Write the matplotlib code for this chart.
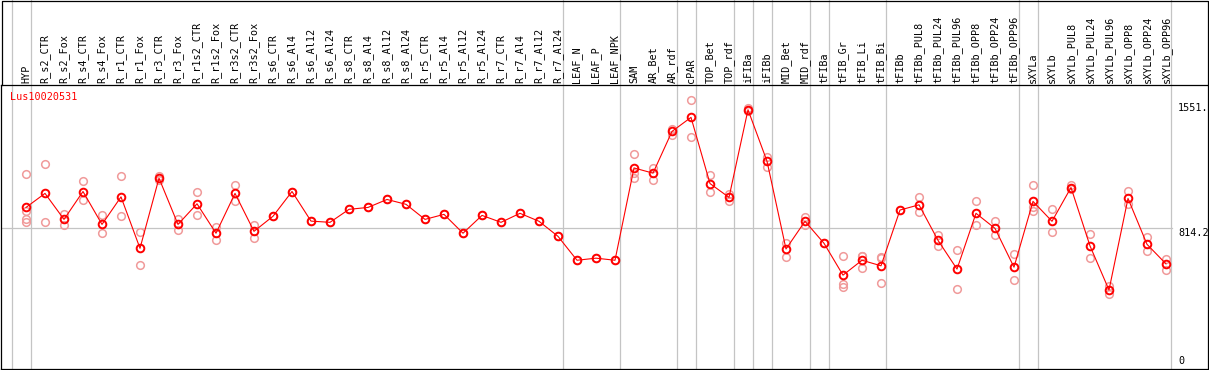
import matplotlib
matplotlib.use("Agg")
import matplotlib.pyplot as plt
import matplotlib.transforms as mtransforms
from matplotlib.lines import Line2D

gene = "Lus10020531"

categories = [
    "HYP", "R_s2_CTR", "R_s2_Fox", "R_s4_CTR", "R_s4_Fox", "R_r1_CTR", "R_r1_Fox",
    "R_r3_CTR", "R_r3_Fox", "R_r1s2_CTR", "R_r1s2_Fox", "R_r3s2_CTR", "R_r3s2_Fox",
    "R_s6_CTR", "R_s6_Al4", "R_s6_Al12", "R_s6_Al24", "R_s8_CTR", "R_s8_Al4",
    "R_s8_Al12", "R_s8_Al24", "R_r5_CTR", "R_r5_Al4", "R_r5_Al12", "R_r5_Al24",
    "R_r7_CTR", "R_r7_Al4", "R_r7_Al12", "R_r7_Al24", "LEAF_N", "LEAF_P", "LEAF_NPK",
    "SAM", "AR_Bet", "AR_rdf", "cPAR", "TOP_Bet", "TOP_rdf", "iFIBa", "iFIBb",
    "MID_Bet", "MID_rdf", "tFIBa", "tFIB_Gr", "tFIB_Li", "tFIB_Bi", "tFIBb",
    "tFIBb_PUL8", "tFIBb_PUL24", "tFIBb_PUL96", "tFIBb_OPP8", "tFIBb_OPP24",
    "tFIBb_OPP96", "sXYLa", "sXYLb", "sXYLb_PUL8", "sXYLb_PUL24", "sXYLb_PUL96",
    "sXYLb_OPP8", "sXYLb_OPP24", "sXYLb_OPP96",
]

means = [
    933, 1014, 864, 1025, 835, 994, 697, 1102, 835, 954, 784, 1014, 795,
    882, 1025, 854, 847, 922, 933, 979, 951, 864, 893, 784, 887,
    847, 899, 853, 766, 628, 640, 628,
    1161, 1131, 1372, 1453, 1071, 991, 1497, 1200,
    693, 853, 726, 542, 628, 596, 918,
    948, 743, 577, 899, 812, 588,
    968, 853, 1048, 711, 456, 985, 720, 607,
]

reps = [
    [1125, 910, 868, 847], [1182, 847], [895, 830], [1085, 974], [887, 784],
    [1117, 882], [789, 601], [1113, 1090], [868, 804], [1025, 887], [822, 743],
    [1060, 968], [833, 758],
    [882], [1025], [854], [847], [922], [933], [979], [951], [864], [893], [784],
    [887], [847], [899], [853], [766], [628], [640], [628],
    [1244, 1129, 1102], [1163, 1092], [1388, 1349], [1551, 1342], [1119, 1025],
    [1008, 971], [1505, 1490], [1224, 1167], [730, 649], [876, 833], [726],
    [651, 490, 476], [653, 650, 584], [646, 640, 498], [918],
    [991, 905], [776, 712], [686, 461], [968, 833], [856, 776], [665, 513],
    [1060, 937, 910], [922, 789], [1060, 1037], [780, 642], [482, 433],
    [1029, 951], [761, 680], [634, 573],
]

# index of the last category of each group (a grey rule follows it)
group_ends = [-1, 0, 28, 31, 34, 35, 37, 38, 39, 41, 42, 45, 52, 53, 60]

ref_level = 814.2
y_labels = [(1551, "1551."), (814.2, "814.2"), (0, "0")]

W, H = 1209, 370
X0, STEP = 26, 19   # pixel x of first category, spacing
TOP = 85            # pixel row of the header rule
FONT = "DejaVu Sans Mono"
GREY = "#c4c4c4"

fig = plt.figure(figsize=(W / 100, H / 100), dpi=100)
ax = fig.add_axes([1 / W, 1 / H, 1207 / W, (369 - TOP) / H])
ax.set_xlim((1 - X0) / STEP, (1208 - X0) / STEP)
ax.set_ylim(0, 1640)
ax.set_xticks([])
ax.set_yticks([])
for s in ax.spines.values():
    s.set_linewidth(0.9)
    s.set_color("black")

# frame around the header
fig.add_artist(Line2D([1.5 / W, 1.5 / W, 1207.5 / W, 1207.5 / W],
                      [(H - TOP) / H, (H - 0.5) / H, (H - 0.5) / H, (H - TOP) / H],
                      transform=fig.transFigure, color="black", lw=0.9))

# grey group rules through the whole height
for g in group_ends:
    ax.axvline(g + 0.24, ymin=0, ymax=369 / (369 - TOP), color=GREY, lw=0.9,
               clip_on=False, zorder=0)
ax.axhline(ref_level, xmin=0, xmax=1171 / 1207, color=GREY, lw=0.9, zorder=0)

rx = [i for i, r in enumerate(reps) for _ in r]
ry = [v for r in reps for v in r]
ax.plot(rx, ry, ls="none", marker="o", ms=5.5, mfc="none", mec="#f09a9a",
        mew=1.1, zorder=2)
ax.plot(range(len(means)), means, color="red", lw=0.8, marker="o", ms=5.5,
        mfc="none", mec="red", mew=1.4, zorder=3)

lab_tr = mtransforms.offset_copy(ax.get_xaxis_transform(), fig=fig, y=2, units="dots")
for i, c in enumerate(categories):
    ax.text(i, 1, c, transform=lab_tr, rotation=90, ha="center", va="bottom",
            fontsize=7.3, family=FONT, clip_on=False)

gene_tr = mtransforms.offset_copy(ax.transAxes, fig=fig, y=-7, units="dots")
ax.text(9 / 1207, 1, gene, transform=gene_tr, ha="left", va="top",
        color="red", fontsize=7.3, family=FONT)

for val, txt in y_labels:
    if val == 0:
        tr = mtransforms.offset_copy(ax.get_yaxis_transform(), fig=fig, y=3, units="dots")
        va = "bottom"
    else:
        off = -3 if val > ref_level else 0
        tr = mtransforms.offset_copy(ax.get_yaxis_transform(), fig=fig, y=off, units="dots")
        va = "top"
    ax.text(1177 / 1207, val, txt, transform=tr, ha="left", va=va,
            fontsize=7.3, family=FONT)

fig.savefig("out.png", dpi=100)
